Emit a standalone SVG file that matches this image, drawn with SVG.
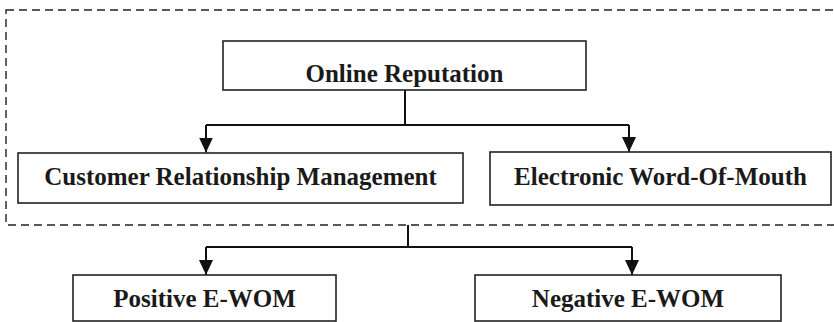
<svg xmlns="http://www.w3.org/2000/svg" width="834" height="322" viewBox="0 0 834 322">
  <defs>
    <style>
      .box { fill: #ffffff; stroke: #222222; stroke-width: 1.6; }
      .lbl { font-family: "Liberation Serif", "Times New Roman", serif; font-weight: bold; font-size: 25px; fill: #1a1a1a; text-anchor: middle; }
      .conn { fill: none; stroke: #111111; stroke-width: 2; }
      .group { fill: none; stroke: #222222; stroke-width: 1.4; stroke-dasharray: 8 5; }
    </style>
    <marker id="arrow" markerUnits="userSpaceOnUse" markerWidth="14" markerHeight="15" refX="7" refY="15" orient="0" viewBox="0 0 14 15">
      <path d="M0,0 L14,0 L7,15 Z" fill="#111111"/>
    </marker>
  </defs>
  <rect width="834" height="322" fill="#ffffff"/>

  <rect id="group-box" class="group" x="6" y="10" width="840" height="215"/>

  <g id="connectors">
    <path class="conn" d="M405,90 V125"/>
    <path class="conn" d="M206,125 H629"/>
    <path class="conn" d="M206,125 V152.5" marker-end="url(#arrow)"/>
    <path class="conn" d="M629,125 V152" marker-end="url(#arrow)"/>
    <path class="conn" d="M408,225 V247"/>
    <path class="conn" d="M206,247 H632"/>
    <path class="conn" d="M206,247 V275" marker-end="url(#arrow)"/>
    <path class="conn" d="M632,247 V275" marker-end="url(#arrow)"/>
  </g>

  <g id="online-reputation">
    <rect class="box" x="223" y="41" width="363" height="49"/>
    <text class="lbl" x="404.5" y="82">Online Reputation</text>
  </g>
  <g id="crm">
    <rect class="box" x="18" y="153" width="445" height="50"/>
    <text class="lbl" x="240.5" y="185">Customer Relationship Management</text>
  </g>
  <g id="ewom">
    <rect class="box" x="490" y="152" width="341" height="53"/>
    <text class="lbl" x="660.5" y="185">Electronic Word-Of-Mouth</text>
  </g>
  <g id="positive-ewom">
    <rect class="box" x="73" y="275" width="263" height="46"/>
    <text class="lbl" x="204.5" y="307">Positive E-WOM</text>
  </g>
  <g id="negative-ewom">
    <rect class="box" x="475" y="275" width="306" height="46"/>
    <text class="lbl" x="628" y="307">Negative E-WOM</text>
  </g>
</svg>
